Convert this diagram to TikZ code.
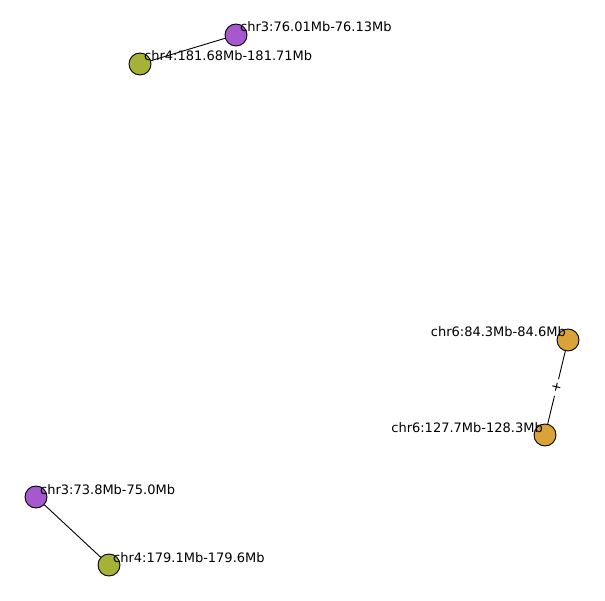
\documentclass[tikz,border=0pt]{standalone}
\usepackage{fontspec}
\setmainfont{DejaVu Sans}
\definecolor{c3}{RGB}{166,89,206}
\definecolor{c4}{RGB}{166,178,54}
\definecolor{c6}{RGB}{217,163,58}

\begin{document}
\begin{tikzpicture}[
    x=1pt, y=-1pt,
    every node/.style={
        font=\fontsize{13}{15}\selectfont
    },
    region/.style={
        circle, draw=black, line width=0.9pt,
        minimum size=22pt, inner sep=0
    },
    lw/.style={
        anchor=base west, inner sep=0
    },
    le/.style={
        anchor=base east, inner sep=0
    },
    link/.style={
        line width=0.9pt, draw=black
    },
    l/.style={
        fill=white, inner sep=3pt, sloped
    }
]
    \useasboundingbox (0,0) rectangle (605,601);

    % top pair
    \node [region, fill=c3] (chr3b) at (236,35) {};
    \node [region, fill=c4] (chr4b) at (140,64) {};
    \draw [link] (chr3b) -- (chr4b);
    \node [lw] (chr3btext) at (240,32) {chr3:76.01Mb-76.13Mb};
    \node [lw] (chr4btext) at (144,61) {chr4:181.68Mb-181.71Mb};

    % right pair
    \node [region, fill=c6] (chr6a) at (568,340) {};
    \node [region, fill=c6] (chr6b) at (545,435) {};
    \draw [link] (chr6a)
        -- node [l] {+}
        (chr6b);
    \node [le] (chr6atext) at (566,337) {chr6:84.3Mb-84.6Mb};
    \node [le] (chr6btext) at (543,432) {chr6:127.7Mb-128.3Mb};

    % bottom pair
    \node [region, fill=c3] (chr3a) at (36,497) {};
    \node [region, fill=c4] (chr4a) at (109,565) {};
    \draw [link] (chr3a) -- (chr4a);
    \node [lw] (chr3atext) at (40,494) {chr3:73.8Mb-75.0Mb};
    \node [lw] (chr4atext) at (113,562) {chr4:179.1Mb-179.6Mb};

\end{tikzpicture}
\end{document}
